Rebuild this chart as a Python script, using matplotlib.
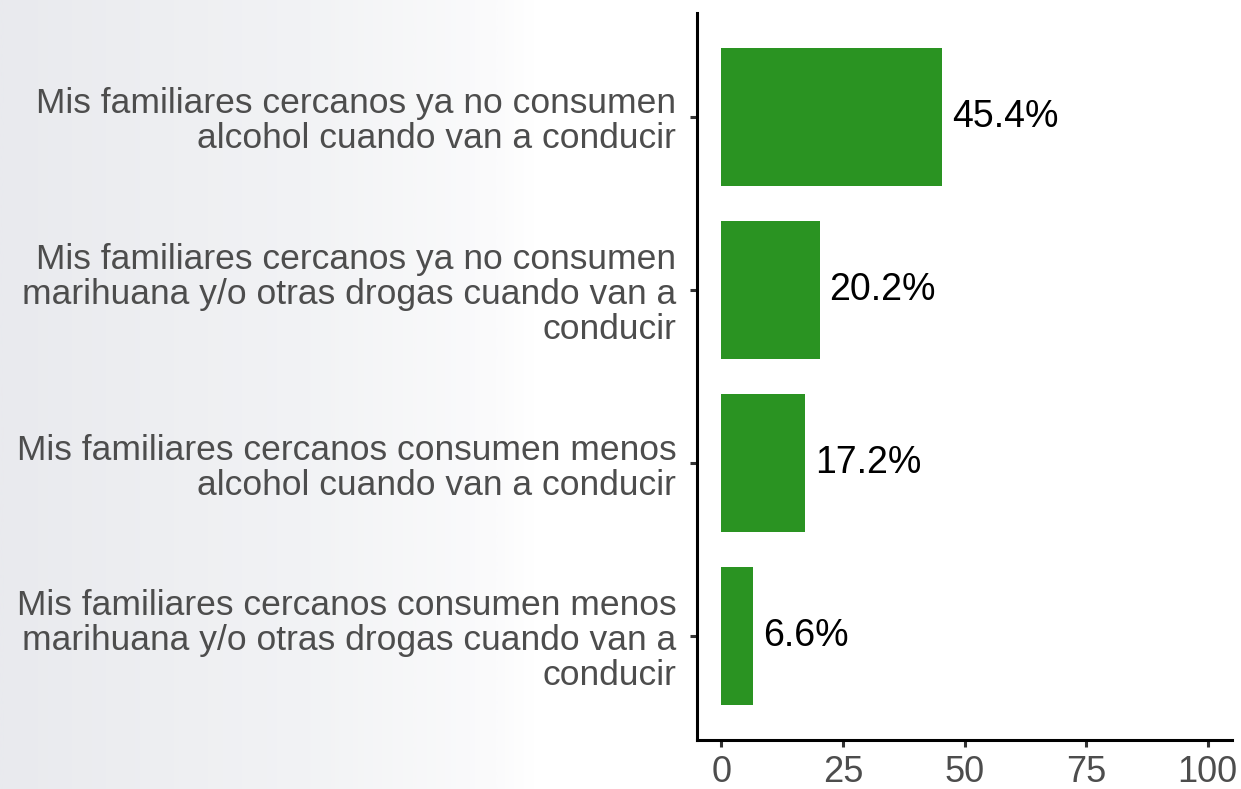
import numpy as np
import matplotlib.pyplot as plt
from matplotlib.colors import LinearSegmentedColormap

categories = [
    "Mis familiares cercanos consumen menos\nmarihuana y/o otras drogas cuando van a\nconducir",
    "Mis familiares cercanos consumen menos\nalcohol cuando van a conducir",
    "Mis familiares cercanos ya no consumen\nmarihuana y/o otras drogas cuando van a\nconducir",
    "Mis familiares cercanos ya no consumen\nalcohol cuando van a conducir",
]
values = [6.6, 17.2, 20.2, 45.4]
value_labels = ["6.6%", "17.2%", "20.2%", "45.4%"]
x_ticks = [0, 25, 50, 75, 100]

plt.rcParams['font.family'] = ['Liberation Sans', 'DejaVu Sans']

fig = plt.figure(figsize=(12.41, 7.89), dpi=100)

# left-side gray gradient behind everything
bg = fig.add_axes([0, 0, 1, 1], zorder=-10)
grad = np.linspace(0, 1, 512).reshape(1, -1)
cmap = LinearSegmentedColormap.from_list(
    "bg", [(0.0, "#e9eaee"), (0.25, "#f2f3f5"), (0.4, "#fbfbfc"),
           (0.43, "#ffffff"), (1.0, "#ffffff")])
bg.imshow(grad, aspect="auto", cmap=cmap, extent=[0, 1, 0, 1])
bg.axis("off")

ax = fig.add_axes([697 / 1241, 1 - 740 / 789, (1232 - 697) / 1241, (740 - 13) / 789])
ax.patch.set_alpha(0)

y = np.arange(1, len(values) + 1)
ax.barh(y, values, height=0.8, color="#2a9322")

for yi, v, lab in zip(y, values, value_labels):
    ax.annotate(lab, (v, yi), xytext=(7, 0), textcoords="offset points",
                va="center", ha="left", fontsize=27, color="black")

ax.set_xlim(-5, 105)
ax.set_ylim(0.4, 4.6)
ax.set_xticks(x_ticks)
ax.set_yticks(y)
ax.set_yticklabels(categories, ha="right", multialignment="right",
                   linespacing=1.08)

for s in ["top", "right"]:
    ax.spines[s].set_visible(False)
for s in ["left", "bottom"]:
    ax.spines[s].set_linewidth(2.2)
    ax.spines[s].set_color("black")

ax.tick_params(axis="both", length=5, width=2.2, color="#333333",
               labelcolor="#4d4d4d", labelsize=25.5)
ax.tick_params(axis="y", pad=10)
ax.tick_params(axis="x", pad=6, labelsize=26)

fig.savefig("out.png", dpi=100)
